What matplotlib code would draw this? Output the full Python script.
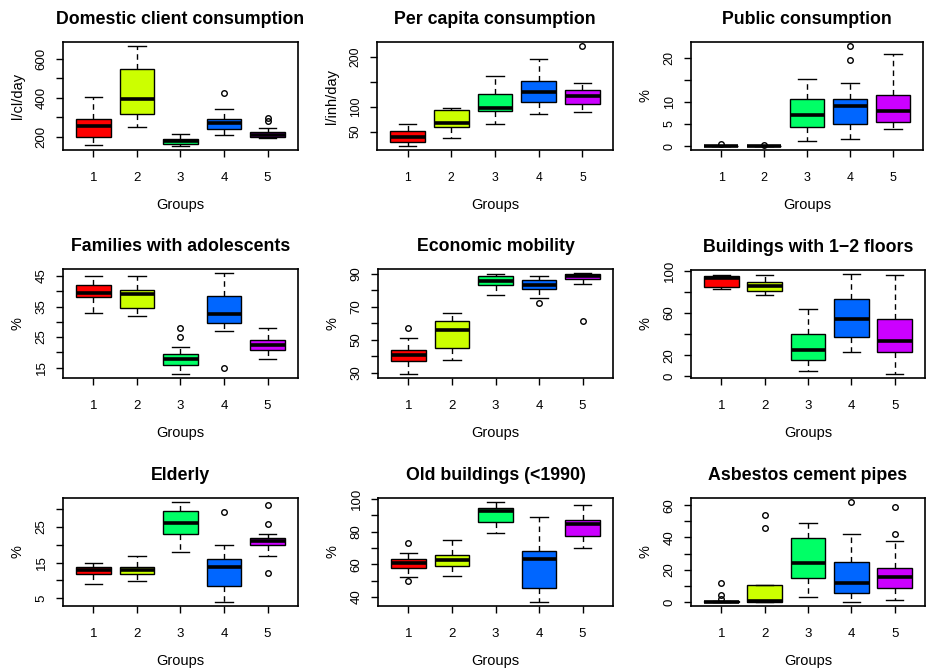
import matplotlib
matplotlib.use("Agg")
import matplotlib.pyplot as plt

plt.rcParams['font.family'] = ['Liberation Sans', 'DejaVu Sans']

groups = ["1", "2", "3", "4", "5"]
colors = ["#FF0000", "#CCFF00", "#00FF66", "#0066FF", "#CC00FF"]

titles = ["Domestic client consumption", "Per capita consumption", "Public consumption",
          "Families with adolescents", "Economic mobility", "Buildings with 1\u22122 floors",
          "Elderly", "Old buildings (<1990)", "Asbestos cement pipes"]
ylabels = ["l/cl/day", "l/inh/day", "%", "%", "%", "%", "%", "%", "%"]

# per panel: whislo, q1, med, q3, whishi (one entry per group), fliers
whislo = [
    [159, 252, 152, 210, 193],
    [21, 37, 66, 85, 89],
    [0, 0, 1.1, 1.5, 3.9],
    [33, 32, 12.9, 27, 17.9],
    [29.2, 37.9, 77.2, 75.4, 84.1],
    [82.6, 77, 5.4, 23, 2.2],
    [8.9, 9.9, 17.9, 4, 16.9],
    [52, 53, 79, 37, 70],
    [0, 0, 3.1, 0, 1],
]
q1 = [
    [197, 315, 162, 241, 200],
    [29, 59, 91, 109, 105],
    [0, 0, 4.2, 5.1, 5.5],
    [38.1, 34.5, 15.9, 29.5, 20.9],
    [37.1, 45, 83.5, 80.6, 87.1],
    [84.9, 80.8, 15.1, 37.2, 23],
    [11.8, 11.8, 22.9, 8.4, 19.9],
    [57.8, 59, 86.1, 45.5, 77.1],
    [0, 0, 14.7, 5.4, 8.9],
]
med = [
    [255, 394, 176, 270, 207],
    [40, 68, 97, 129, 122],
    [0, 0, 7.1, 9.0, 8.0],
    [39.6, 39.1, 17.8, 32.5, 22.4],
    [40.8, 56.2, 85.5, 83.5, 89.0],
    [92.7, 85.2, 25.2, 53.9, 33.4],
    [13.0, 12.9, 26.1, 13.9, 21.0],
    [60.6, 62.7, 92.4, 63.1, 84.5],
    [0.2, 0.6, 24, 12, 15.5],
]
q3 = [
    [291, 545, 186, 291, 226],
    [52, 94, 125, 152, 133],
    [0, 0, 10.6, 10.7, 11.6],
    [42, 40.5, 19.3, 38.6, 23.9],
    [44, 61.1, 88.6, 86.3, 90.0],
    [95, 89.6, 39.7, 73.5, 54.6],
    [13.9, 13.9, 29.4, 16.1, 21.9],
    [63.3, 65.5, 94.3, 68.4, 87.1],
    [0.5, 10.8, 39.5, 24.8, 21.1],
]
whishi = [
    [404, 665, 215, 341, 246],
    [66, 98, 161, 195, 147],
    [0, 0, 15.1, 14.4, 20.8],
    [45, 45, 21.9, 46, 28],
    [51, 66, 90, 89, 90.5],
    [95.9, 95.6, 64, 96.8, 95.6],
    [15, 16.9, 31.9, 20, 23],
    [67, 75.1, 98.2, 89.2, 96.1],
    [0.5, 10.8, 49, 42, 38.1],
]
fliers = [
    [[], [], [], [423], [294, 282]],
    [[], [], [], [], [221]],
    [[0.35], [0.3], [], [22.7, 19.5], []],
    [[], [], [28.1, 25], [14.9], []],
    [[57.3], [], [], [72.1], [61.1]],
    [[], [], [], [], []],
    [[], [], [], [29], [31, 25.9, 12]],
    [[73, 49.8], [], [], [], []],
    [[12, 4.1, 1.9], [54.2, 45.9], [], [62], [59, 42]],
]

yticks = [
    [200, 300, 400, 500, 600],
    [50, 100, 150, 200],
    [0, 5, 10, 15, 20],
    [15, 20, 25, 30, 35, 40, 45],
    [30, 40, 50, 60, 70, 80, 90],
    [0, 20, 40, 60, 80, 100],
    [5, 10, 15, 20, 25, 30],
    [40, 50, 60, 70, 80, 90, 100],
    [0, 10, 20, 30, 40, 50, 60],
]
ytick_labels = [
    ["200", "", "400", "", "600"],
    ["50", "100", "", "200"],
    ["0", "5", "10", "", "20"],
    ["15", "", "25", "", "35", "", "45"],
    ["30", "", "50", "", "70", "", "90"],
    ["0", "20", "", "60", "", "100"],
    ["5", "", "15", "", "25", ""],
    ["40", "", "60", "", "80", "", "100"],
    ["0", "", "20", "", "40", "", "60"],
]

# panel rectangles in pixels: x0, x1, ytop, ybottom
rects = [
    (63, 298, 42, 150), (377, 613, 42, 150), (691, 923, 42, 150),
    (63, 298, 269, 378), (378, 613, 269, 378), (691, 925, 270, 378),
    (63, 298, 498, 606), (378, 613, 498, 606), (691, 925, 498, 606),
]
tick_fs = [9.5, 8.7, 9, 9.5, 9.5, 9.5, 9.5, 9.5, 9.5]

W, H = 928, 671
fig = plt.figure(figsize=(W / 100, H / 100), dpi=100)

for i in range(9):
    x0, x1, yt, yb = rects[i]
    ax = fig.add_axes([x0 / W, 1 - yb / H, (x1 - x0) / W, (yb - yt) / H])
    stats = []
    for g in range(5):
        stats.append(dict(whislo=whislo[i][g], q1=q1[i][g], med=med[i][g], q3=q3[i][g],
                          whishi=whishi[i][g], fliers=fliers[i][g], label=groups[g]))
    bp = ax.bxp(stats, positions=range(1, 6), widths=0.8, patch_artist=True,
                showfliers=True,
                boxprops=dict(linewidth=1.0, edgecolor="black"),
                medianprops=dict(color="black", linewidth=2.6, solid_capstyle="butt"),
                whiskerprops=dict(color="black", linewidth=1.0, linestyle=(0, (4, 3))),
                capprops=dict(color="black", linewidth=1.0),
                capwidths=0.4,
                flierprops=dict(marker="o", markerfacecolor="none", markeredgecolor="black",
                                markersize=4, markeredgewidth=1.0, linestyle="none"))
    for patch, c in zip(bp["boxes"], colors):
        patch.set_facecolor(c)
    # R-style axis limits (4% extension)
    allv = [v for g in range(5) for v in [whislo[i][g], whishi[i][g]] + list(fliers[i][g])]
    lo, hi = min(allv), max(allv)
    ext = (hi - lo) * 0.04
    ax.set_ylim(lo - ext, hi + ext)
    ax.set_xlim(0.3, 5.7)
    ax.set_xticks(range(1, 6))
    ax.set_xticklabels(groups)
    ax.set_yticks(yticks[i])
    ax.set_yticklabels(ytick_labels[i])
    ax.tick_params(axis="both", direction="out", length=5, width=1.0,
                   labelsize=tick_fs[i], colors="black")
    ax.tick_params(axis="x", pad=11)
    ax.tick_params(axis="y", pad=6)
    for lab in ax.get_yticklabels():
        lab.set_rotation(90)
        lab.set_va("center")
    for s in ax.spines.values():
        s.set_linewidth(1.2)
    ax.set_title(titles[i], fontsize=12.8, fontweight="bold", pad=13)
    ax.set_xlabel("Groups", fontsize=10.5, labelpad=10)
    ax.set_ylabel(ylabels[i], fontsize=10.5, labelpad=8)

fig.savefig("out.png", dpi=100)
